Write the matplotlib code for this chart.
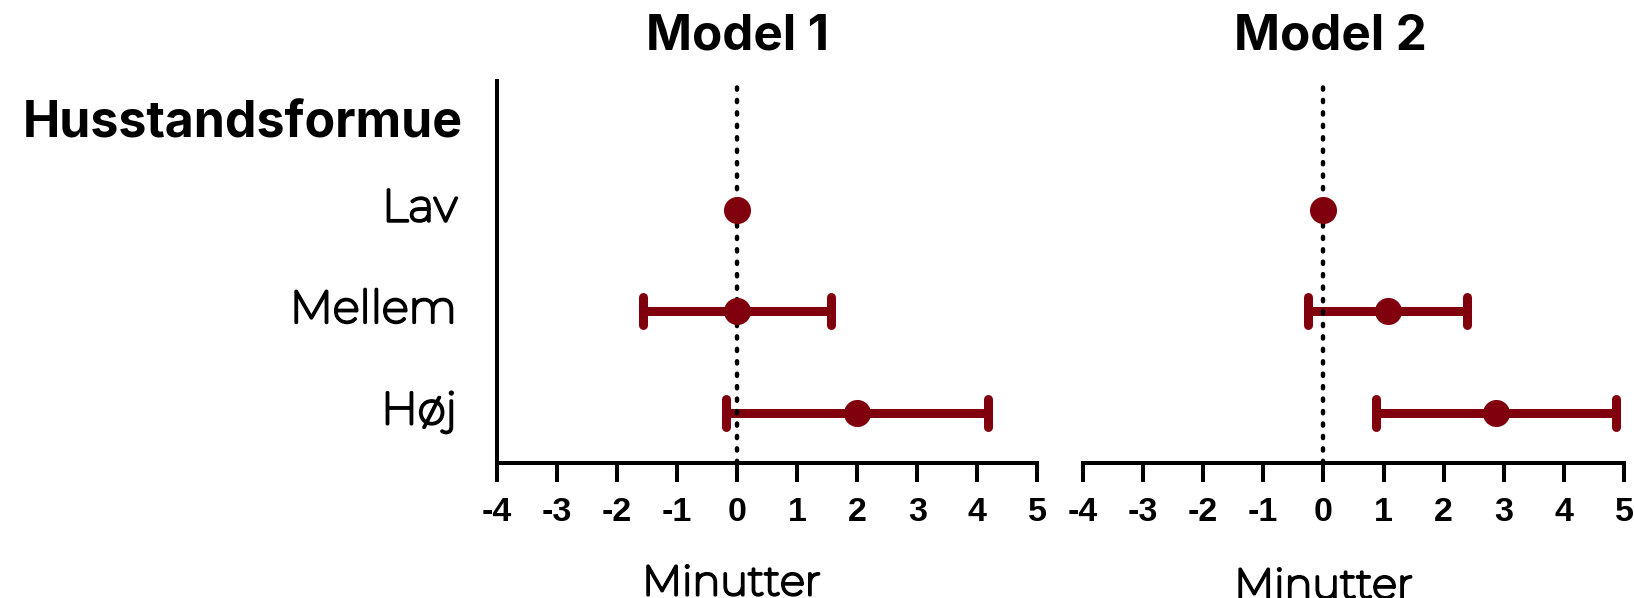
import matplotlib
matplotlib.use("Agg")
import matplotlib.pyplot as plt
import matplotlib.font_manager as fm
import matplotlib.patheffects as pe
from matplotlib.markers import MarkerStyle
from collections import defaultdict
import numpy as np

# ---------------- data ----------------
categories = ["Lav", "Mellem", "Høj"]
group_title = "Husstandsformue"
panel_titles = ["Model 1", "Model 2"]
x_label = "Minutter"
x_ticks = [-4, -3, -2, -1, 0, 1, 2, 3, 4, 5]
x_tick_labels = ["-4", "-3", "-2", "-1", "0", "1", "2", "3", "4", "5"]

model1_est = [0.0, 0.0, 2.0]
model1_lo = [np.nan, -1.57, -0.18]
model1_hi = [np.nan, 1.56, 4.18]

model2_est = [0.0, 1.07, 2.87]
model2_lo = [np.nan, -0.26, 0.87]
model2_hi = [np.nan, 2.39, 4.86]

# ---------------- fonts ----------------
weights = defaultdict(set)
for f in fm.fontManager.ttflist:
    w = f.weight
    if isinstance(w, str):
        w = fm.weight_dict.get(w, 400)
    weights[f.name].add(int(w))

def pick(cands, lo, hi):
    for c in cands:
        if any(lo <= w <= hi for w in weights.get(c, ())):
            return c
    return None

fam_order = ["Montserrat", "Inter", "Open Sans", "Noto Sans", "Lato", "Roboto"]
BOLD = pick(fam_order, 600, 800) or "DejaVu Sans"
REG = pick(["Montserrat"], 350, 500)
REG_EFFECTS = None
if REG is None:
    if "Montserrat" in weights:
        REG = "Montserrat"
        REG_EFFECTS = [pe.withStroke(linewidth=2.1, foreground="black")]
    else:
        REG = pick(fam_order, 350, 500) or "DejaVu Sans"
TICKF = pick(["Liberation Sans", "Arimo"], 600, 800) or "DejaVu Sans"

RED = "#80000e"

fig = plt.figure(figsize=(16.34, 5.98), dpi=100)
ax1 = fig.add_axes([0.3043, 0.2253, 0.3305, 0.6392])
ax2 = fig.add_axes([0.6627, 0.2253, 0.3312, 0.6392])

rows = np.array([3, 2, 1], dtype=float)

def draw(ax, est, lo, hi, show_left):
    est = np.asarray(est, float)
    lo = np.asarray(lo, float)
    hi = np.asarray(hi, float)
    xerr = np.vstack([est - lo, hi - est])
    cont = ax.errorbar(est, rows, xerr=xerr, fmt="none", ecolor=RED,
                       elinewidth=6.5, capsize=10, capthick=6.5, zorder=2)
    for c in cont[1]:
        c.set_marker(MarkerStyle("|", capstyle="round"))
    ax.axvline(0, color="black", lw=3.2, linestyle=(0, (0.5, 2.3)),
               dash_capstyle="round", zorder=3)
    ax.plot(est, rows, "o", color=RED, markersize=19.5, markeredgewidth=0, zorder=4)

    ax.set_xlim(-4, 5)
    ax.set_ylim(0.5, 4.27)
    for s in ["top", "right"]:
        ax.spines[s].set_visible(False)
    ax.spines["left"].set_visible(show_left)
    for s in ["left", "bottom"]:
        ax.spines[s].set_linewidth(2.9)
        ax.spines[s].set_color("black")
    ax.set_xticks(x_ticks)
    ax.set_xticklabels(x_tick_labels, fontfamily=TICKF, fontweight="bold", fontsize=24.5)
    ax.tick_params(axis="x", direction="out", length=14, width=2.9, pad=10.5, colors="black")
    ax.tick_params(axis="y", left=False, labelleft=False)
    ax.patch.set_visible(False)

draw(ax1, model1_est, model1_lo, model1_hi, True)
draw(ax2, model2_est, model2_lo, model2_hi, False)

reg_kw = dict(fontfamily=REG, color="black")
if REG_EFFECTS:
    reg_kw["path_effects"] = REG_EFFECTS
bold_kw = dict(fontfamily=BOLD, fontweight="bold", color="black")

# category labels
ytr = ax1.get_yaxis_transform()
for r, lab in zip(rows, categories):
    ax1.text(-0.0746, r - 0.113, lab, transform=ytr, ha="right", va="baseline",
             fontsize=32.5, **reg_kw)
ax1.text(-0.0635, 3.712, group_title, transform=ytr, ha="right", va="baseline",
         fontsize=36, **bold_kw)

# titles
ax1.text(0.0, 4.579, panel_titles[0], ha="center", va="baseline", fontsize=35.5, **bold_kw)
ax2.text(0.12, 4.579, panel_titles[1], ha="center", va="baseline", fontsize=35.5, **bold_kw)

# x labels
ax1.text(-0.1, -0.80, x_label, ha="center", va="baseline", fontsize=30, **reg_kw)
ax2.text(0.0, -0.83, x_label, ha="center", va="baseline", fontsize=30, **reg_kw)

fig.savefig("out.png", dpi=100)
